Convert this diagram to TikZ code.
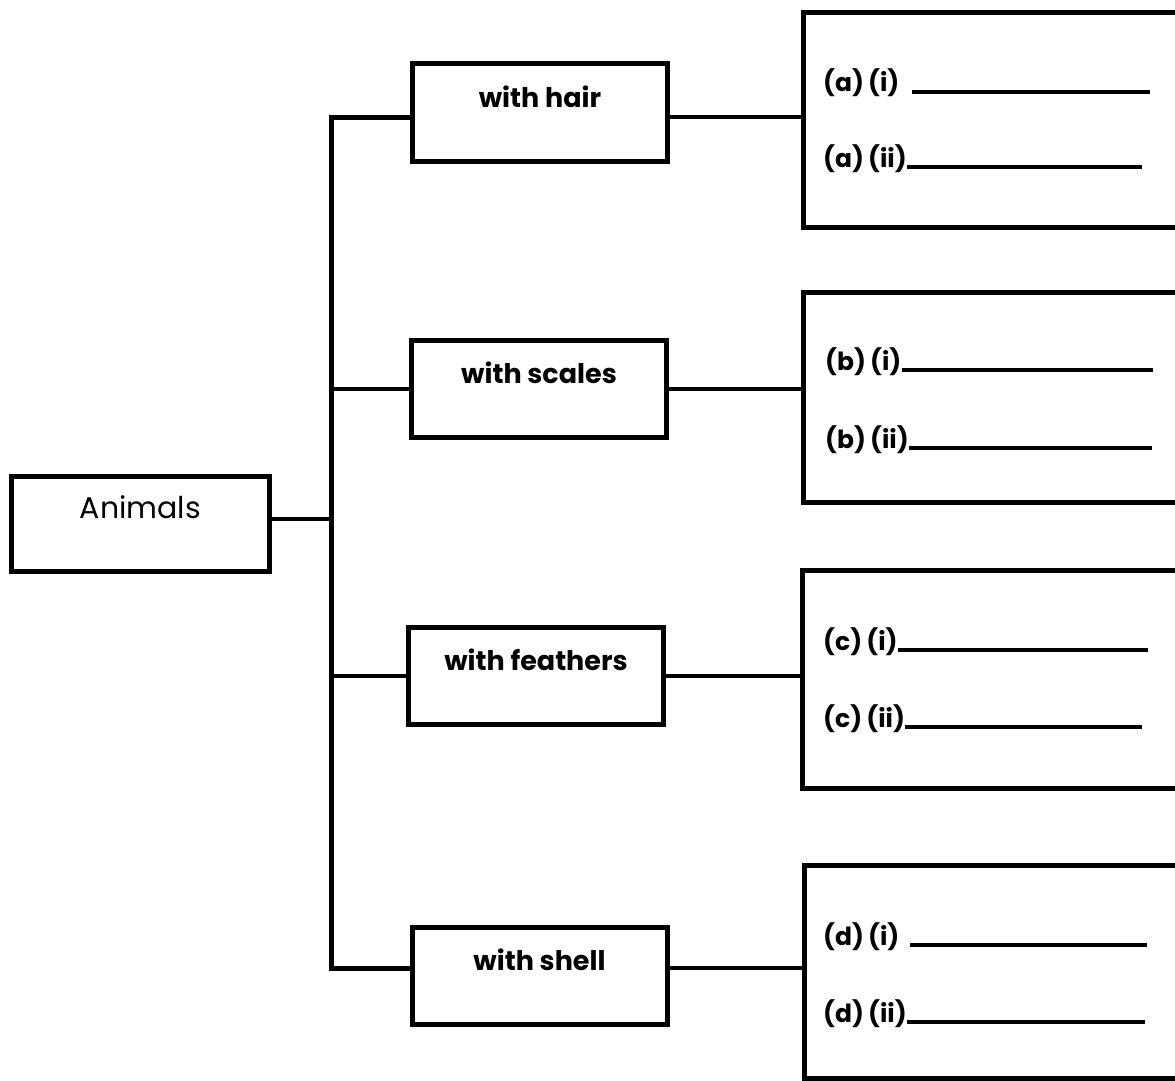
\documentclass[tikz,border=0pt]{standalone}
\usepackage{fontspec}
\setmainfont{Poppins}

\tikzset{
  groupbox/.style={draw, line width=5pt, minimum width=255pt, minimum height=97pt,
    inner sep=0pt, font=\fontsize{27}{30}\selectfont\bfseries,
    text height=21pt, text depth=32pt},
  ansbox/.style={draw, line width=5pt, minimum width=400pt, anchor=north west, inner sep=0pt},
  ans/.style={anchor=base west, inner sep=0pt, font=\fontsize{25}{28}\selectfont\bfseries},
  link/.style={line width=4pt},
  blank/.style={line width=3.5pt}
}

\begin{document}
\begin{tikzpicture}[x=1pt,y=-1pt]
\clip (0,0) rectangle (1175,1081);
%% main box
\node[groupbox, font=\fontsize{30}{32}\selectfont, minimum width=258pt, minimum height=95pt] (animals) at (140.5,523.5) {Animals};
%% groups
\node[groupbox] (hair) at (540,112.5) {with hair};
\node[groupbox] (scales) at (539,388.5) {with scales};
\node[groupbox] (feathers) at (536,676) {with feathers};
\node[groupbox] (shell) at (539.5,975.5) {with shell};
%% answer boxes
\node[ansbox, minimum height=214pt] (ansa) at (800.5,10.5) {};
\node[ansbox, minimum height=210pt] (ansb) at (800.5,289.5) {};
\node[ansbox, minimum height=218pt] (ansc) at (799.5,567.5) {};
\node[ansbox, minimum height=213pt] (ansd) at (801.5,862.5) {};

%% trunk
\coordinate (ja) at (331,519);
\coordinate (jh) at (331,117);
\coordinate (js) at (331,389);
\coordinate (jf) at (331,676);
\coordinate (jd) at (331,968);
\draw[link, line width=5pt] (jh -| hair.west) -- (jh) -- (jd) -- (jd -| shell.west);
\draw[link] (animals.east |- ja) -- (ja);
\draw[link] (js) -- (js -| scales.west);
\draw[link] (jf) -- (jf -| feathers.west);
\draw[link] (jh -| hair.east) -- (jh -| ansa.west);
\draw[link] (js -| scales.east) -- (js -| ansb.west);
\draw[link] (jf -| feathers.east) -- (jf -| ansc.west);
\draw[link] (jd -| shell.east) -- (jd -| ansd.west);

%% answer lines
\node[ans] (ai) at (823,92) {(a)\,(i)};
\node[ans] (aii) at (823,167) {(a)\,(ii)};
\draw[blank] ([xshift=12pt]ai.base east) -- (1150,92);
\draw[blank] (aii.base east) -- (1142,167);
\node[ans] (bi) at (825,370) {(b)\,(i)};
\node[ans] (bii) at (825,448) {(b)\,(ii)};
\draw[blank] (bi.base east) -- (1153,370);
\draw[blank] (bii.base east) -- (1152,448);
\node[ans] (ci) at (823,650) {(c)\,(i)};
\node[ans] (cii) at (823,727) {(c)\,(ii)};
\draw[blank] (ci.base east) -- (1148,650);
\draw[blank] (cii.base east) -- (1142,727);
\node[ans] (di) at (823,945) {(d)\,(i)};
\node[ans] (dii) at (823,1022) {(d)\,(ii)};
\draw[blank] ([xshift=10pt]di.base east) -- (1147,945);
\draw[blank] (dii.base east) -- (1145,1022);

\end{tikzpicture}
\end{document}
